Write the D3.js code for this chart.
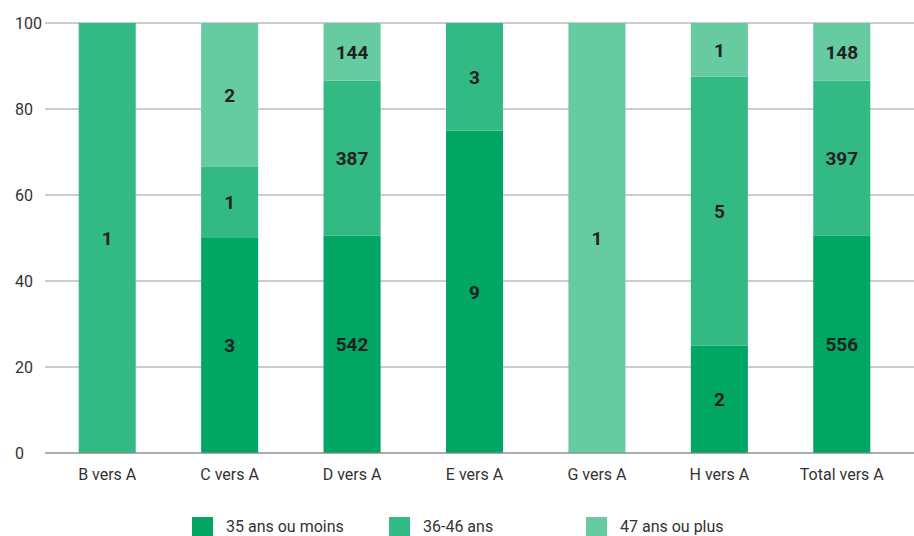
<!DOCTYPE html>
<html><head><meta charset="utf-8">
<script src="https://cdn.jsdelivr.net/npm/d3@7"></script>
<style>body{margin:0;background:#fff}svg{display:block;font-family:Roboto,"Liberation Sans",sans-serif}</style>
</head><body>
<svg id="c" width="914" height="536"></svg>
<script>
const categories = ["B vers A","C vers A","D vers A","E vers A","G vers A","H vers A","Total vers A"];
const seriesNames = ["35 ans ou moins","36-46 ans","47 ans ou plus"];
const young = [0,3,542,9,0,2,556];
const middle = [1,1,387,3,0,5,397];
const older = [0,2,144,0,1,1,148];
const yTicks = [0,20,40,60,80,100];
const colors = ["#00a661","#33b983","#66cba0"];

const svg = d3.select("#c");
const x = d3.scaleBand().domain(categories).range([46,903]).paddingInner(0.534).paddingOuter(0.267);
const y = d3.scaleLinear().domain([0,100]).range([453,23]);

const rows = categories.map((c,i)=>{
  const tot = young[i]+middle[i]+older[i];
  return {cat:c, vals:[young[i],middle[i],older[i]], tot};
});

// grid
svg.append("g").selectAll("line").data(yTicks).join("line")
  .attr("x1",45).attr("x2",914).attr("y1",d=>y(d)).attr("y2",d=>y(d))
  .attr("stroke","#9a9a9a").attr("stroke-width",1);
svg.append("g").selectAll("text").data(yTicks).join("text")
  .attr("x",15).attr("y",d=>y(d)).attr("dy","0.35em")
  .attr("font-size",16).attr("fill","#333").text(d=>d);

// bars
const gBars = svg.append("g");
rows.forEach(r=>{
  let acc=0;
  r.vals.forEach((v,k)=>{
    if(v<=0) return;
    const p0=acc/r.tot*100, p1=(acc+v)/r.tot*100;
    acc+=v;
    gBars.append("rect").attr("x",x(r.cat)).attr("width",x.bandwidth())
      .attr("y",y(p1)).attr("height",y(p0)-y(p1)).attr("fill",colors[k]);
    gBars.append("text").attr("x",x(r.cat)+x.bandwidth()/2).attr("y",(y(p0)+y(p1))/2)
      .attr("dy","0.36em").attr("text-anchor","middle").attr("font-size",19)
      .attr("font-weight","bold").attr("fill","#222").text(v);
  });
});
// baseline redraw
svg.append("line").attr("x1",45).attr("x2",914).attr("y1",y(0)).attr("y2",y(0)).attr("stroke","#8a8a8a");

// x labels
svg.append("g").selectAll("text").data(categories).join("text")
  .attr("x",d=>x(d)+x.bandwidth()/2).attr("y",480).attr("text-anchor","middle")
  .attr("font-size",16).attr("fill","#333").text(d=>d);

// legend
const legX = [192,389,586];
const lg = svg.append("g");
seriesNames.forEach((n,i)=>{
  lg.append("rect").attr("x",legX[i]).attr("y",517).attr("width",21).attr("height",20).attr("fill",colors[i]);
  lg.append("text").attr("x",legX[i]+34).attr("y",532).attr("font-size",16).attr("fill","#333").text(n);
});
</script>
</body></html>
